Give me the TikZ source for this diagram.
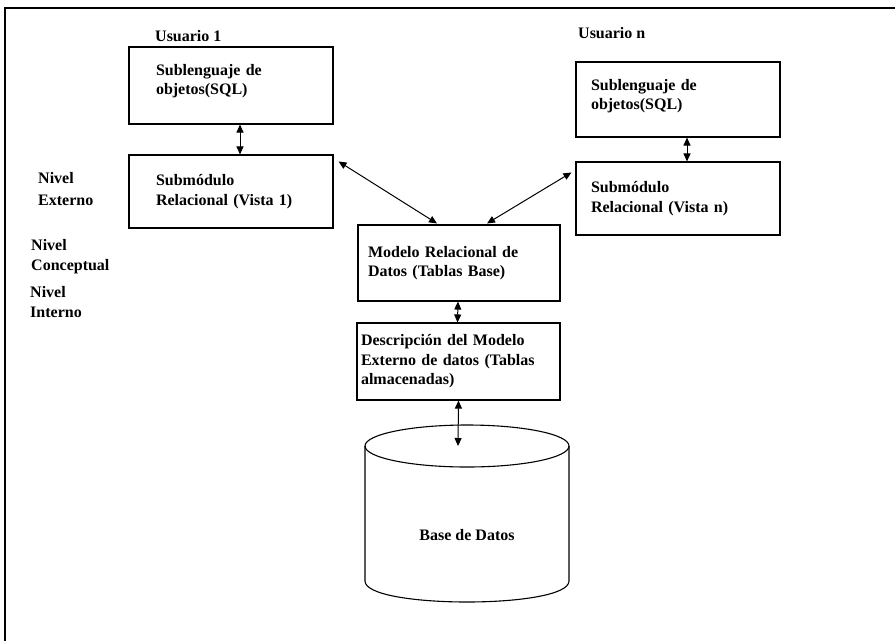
\documentclass[tikz,border=0pt]{standalone}
\usepackage{fontspec}
\setmainfont{Liberation Serif}
\usetikzlibrary{arrows.meta}
\begin{document}
\begin{tikzpicture}[x=1pt,y=-1pt,
  txt/.style={font=\fontsize{16pt}{19.5pt}\selectfont\bfseries},
  box/.style={draw, line width=1.1pt, txt, align=left, inner ysep=0pt},
  lbl/.style={txt, anchor=west, inner sep=0pt},
  dbl/.style={{Triangle[length=8pt,width=7pt]}-{Triangle[length=8pt,width=7pt]}, line width=1pt},
  frame/.style={line width=1.3pt},
]
\useasboundingbox (0,0) rectangle (895,641);
% scanned frame (top and left edges only)
\draw[frame] (5,641) -- (5,8) -- (895,8);

% boxes
\node[box, minimum width=204pt, minimum height=77pt, text width=150pt, inner xsep=27pt] (A) at (231,85.5)
  {Sublenguaje de\\objetos(SQL)\\[-7.5pt]\mbox{}};
\node[box, minimum width=204pt, minimum height=73pt, text width=150pt, inner xsep=27pt] (B) at (231,191.5)
  {Submódulo\\Relacional (Vista 1)};
\node[box, minimum width=204pt, minimum height=75pt, text width=174pt, inner xsep=15pt] (E) at (678,99.5)
  {Sublenguaje de\\objetos(SQL)\\[-9pt]\mbox{}};
\node[box, minimum width=204pt, minimum height=73pt, text width=174pt, inner xsep=15pt] (F) at (678,198.5)
  {Submódulo\\Relacional (Vista n)};
\node[box, minimum width=202pt, minimum height=76pt, text width=182pt, inner xsep=10pt] (C) at (459,263)
  {Modelo Relacional de\\Datos (Tablas Base)};
\node[box, minimum width=203pt, minimum height=77pt, text width=195pt, inner xsep=4pt] (D) at (458.5,361.5)
  {Descripción del Modelo\\Externo de datos (Tablas\\almacenadas)};

% database cylinder
\draw[line width=1.1pt] (467,446) ellipse [x radius=102, y radius=21];
\draw[line width=1.1pt] (365,446) -- (365,581) .. controls (365,609) and (569,609) .. (569,581) -- (569,446);
\coordinate (dbtop) at (458,446);
\node[txt] (db) at (467,535) {Base de Datos};

% labels
\node[lbl] (u1) at (155,36) {Usuario 1};
\node[lbl] (un) at (578,33) {Usuario n};
\node[lbl] (ne1) at (38,178) {Nivel};
\node[lbl] (ne2) at (38,200) {Externo};
\node[lbl] (nc1) at (31,245) {Nivel};
\node[lbl] (nc2) at (31,267) {Conceptual};
\node[lbl] (ni1) at (30,292) {Nivel};
\node[lbl] (ni2) at (30,312) {Interno};

% connectors
\draw[dbl] ([xshift=9pt]A.south) -- ([xshift=9pt]B.north);
\draw[dbl] ([xshift=9pt]E.south) -- ([xshift=9pt]F.north);
\draw[dbl] ([xshift=-1pt]C.south) -- ([xshift=-1pt]D.north);
\draw[dbl] (D.south) -- (dbtop);
\draw[dbl] ([shift={(5pt,-7pt)}]B.north east) -- ([shift={(-22pt,1pt)}]C.north);
\draw[dbl] ([shift={(-4pt,-11pt)}]F.north west) -- ([shift={(28pt,1pt)}]C.north);
\end{tikzpicture}
\end{document}
